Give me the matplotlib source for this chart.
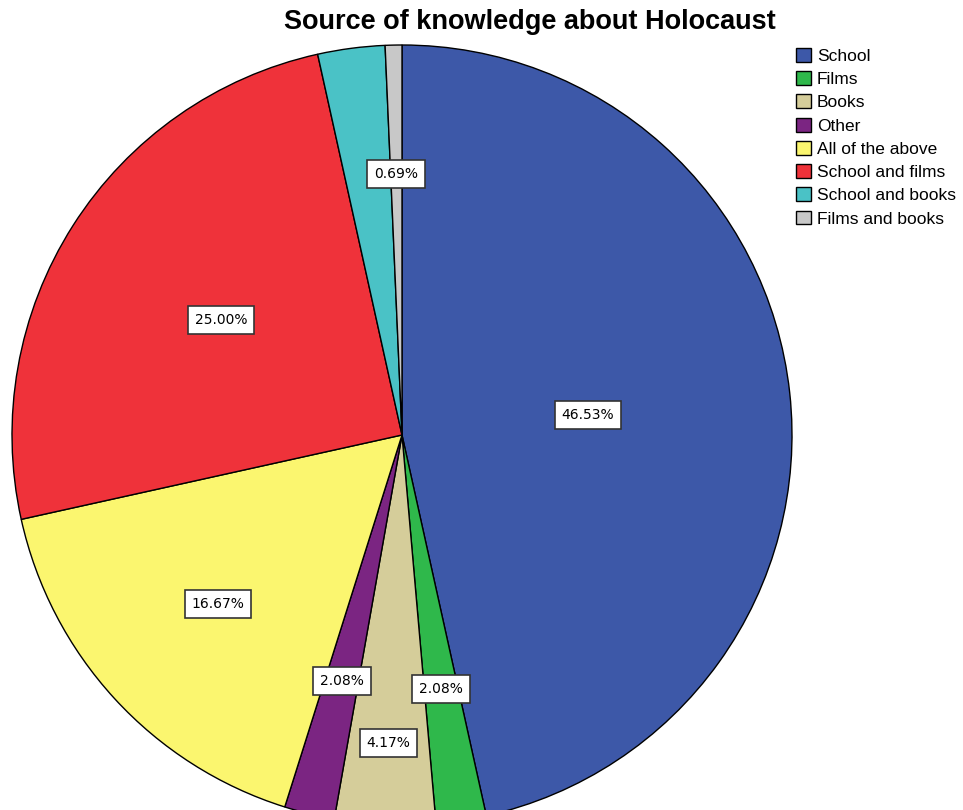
import numpy as np
import matplotlib.pyplot as plt

# values (School and books is unlabelled: 100 - rest)
categories = ['School', 'Films', 'Books', 'Other', 'All of the above',
              'School and films', 'School and books', 'Films and books']
percents = [46.53, 2.08, 4.17, 2.08, 16.67, 25.00, 2.78, 0.69]
shown = [True, True, True, True, True, True, False, True]
colors = ['#3d58a8', '#2fb84b', '#d5cd9a', '#7b2582', '#fbf66f',
          '#ef323a', '#4ac2c6', '#c8c8c8']
# radial position of each label, as fraction of the radius
label_r = [0.48, 0.66, 0.79, 0.65, 0.64, 0.55, 0.6, 0.67]

plt.rcParams['font.family'] = ['Liberation Sans', 'DejaVu Sans']

fig = plt.figure(figsize=(9.63, 8.10), dpi=100)
W, H = 963, 810
cx, cy, R = 402, 435, 390
ax = fig.add_axes([(cx - R) / W, (H - cy - R) / H, 2 * R / W, 2 * R / H])

wedges, _ = ax.pie(percents, colors=colors, startangle=90, counterclock=False,
                   wedgeprops=dict(edgecolor='black', linewidth=1))
ax.set_xlim(-1, 1)
ax.set_ylim(-1, 1)
ax.set_aspect('equal')

for w, p, s, r in zip(wedges, percents, shown, label_r):
    if not s:
        continue
    ang = np.deg2rad((w.theta1 + w.theta2) / 2)
    ax.text(r * np.cos(ang), r * np.sin(ang), f'{p:.2f}%',
            ha='center', va='center', fontsize=10, family='DejaVu Sans',
            bbox=dict(boxstyle='square,pad=0.5', fc='white', ec='#333333', lw=1.2))

fig.text(530 / W, 1 - 22 / H, 'Source of knowledge about Holocaust',
         ha='center', va='center', fontsize=19.5, fontweight='bold')

fig.legend(wedges, categories, loc='upper left', bbox_to_anchor=(796 / W, 1 - 48 / H),
           frameon=False, fontsize=12.5, handlelength=0.85, handleheight=0.85,
           handletextpad=0.35, labelspacing=0.42, borderaxespad=0, borderpad=0)

fig.savefig('out.png', dpi=100)
